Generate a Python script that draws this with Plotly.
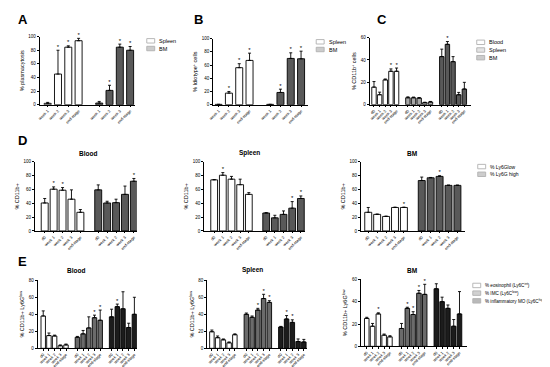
import plotly.graph_objects as go

# ---------------- data ----------------
cats4 = ["week 1", "week 2", "week 3", "end-stage"]
cats5 = ["d0", "week 1", "week 2", "week 3", "end-stage"]

# A: % plasmacytosis
A_spleen = [2.0, 45.0, 84.5, 94.0]
A_spleen_err = [1.4, 35.0, 2.0, 3.5]
A_spleen_sig = [0, 1, 1, 1]
A_bm = [2.4, 21.0, 84.5, 80.0]
A_bm_err = [2.4, 7.5, 4.5, 5.5]
A_bm_sig = [0, 1, 1, 1]

# B: % idiotype+ cells
B_spleen = [0.5, 17.5, 56.0, 67.0]
B_spleen_err = [0.0, 2.5, 6.0, 11.0]
B_spleen_sig = [0, 1, 1, 1]
B_bm = [0.5, 18.5, 70.0, 69.5]
B_bm_err = [0.0, 5.0, 8.5, 11.5]
B_bm_sig = [0, 1, 1, 1]

# C: % CD11b+ cells
C_blood = [15.7, 8.9, 22.2, 29.9, 29.9]
C_blood_err = [5.0, 2.3, 0.8, 2.1, 2.9]
C_blood_sig = [0, 0, 0, 1, 1]
C_spleen = [6.2, 6.2, 5.9, 1.8, 2.4]
C_spleen_err = [0.8, 0.6, 0.5, 0.4, 0.5]
C_spleen_sig = [0, 0, 0, 0, 0]
C_bm = [43.0, 54.0, 38.5, 8.9, 14.0]
C_bm_err = [6.7, 2.5, 4.5, 2.1, 6.0]
C_bm_sig = [0, 1, 0, 0, 0]

# D: % CD11b+ (Ly6G low / high)
D_blood_low = [40.5, 60.5, 59.0, 46.0, 27.0]
D_blood_low_err = [6.5, 3.3, 3.8, 13.5, 4.0]
D_blood_low_sig = [0, 1, 1, 0, 0]
D_blood_high = [59.5, 40.5, 41.0, 53.0, 72.0]
D_blood_high_err = [7.2, 2.5, 5.0, 12.0, 4.0]
D_blood_high_sig = [0, 0, 0, 0, 1]
D_spleen_low = [74.0, 80.7, 75.0, 67.0, 53.0]
D_spleen_low_err = [0.5, 3.8, 4.0, 8.0, 2.5]
D_spleen_low_sig = [0, 1, 0, 0, 0]
D_spleen_high = [26.0, 19.0, 24.0, 33.0, 47.0]
D_spleen_high_err = [0.5, 3.7, 5.0, 9.5, 3.7]
D_spleen_high_sig = [0, 0, 0, 1, 1]
D_bm_low = [27.0, 24.0, 21.0, 34.0, 34.0]
D_bm_low_err = [7.0, 0.5, 0.5, 0.5, 0.5]
D_bm_low_sig = [0, 0, 0, 0, 1]
D_bm_high = [73.0, 77.0, 79.0, 66.0, 66.0]
D_bm_high_err = [5.0, 0.5, 1.0, 0.5, 0.5]
D_bm_high_sig = [0, 0, 1, 0, 0]

# E: % CD11b+ Ly6G low subsets
E_blood_eos = [38.0, 15.0, 14.5, 3.0, 4.0]
E_blood_eos_err = [6.0, 3.0, 1.0, 1.0, 1.0]
E_blood_eos_sig = [0, 0, 0, 0, 0]
E_blood_imc = [13.0, 17.0, 24.0, 36.0, 33.0]
E_blood_imc_err = [1.0, 4.0, 13.0, 3.0, 12.0]
E_blood_imc_sig = [0, 0, 0, 1, 1]
E_blood_mo = [37.0, 49.0, 46.5, 24.5, 40.0]
E_blood_mo_err = [9.0, 3.0, 20.0, 5.0, 20.0]
E_blood_mo_sig = [0, 1, 0, 0, 0]

E_spleen_eos = [19.5, 12.5, 10.0, 6.5, 16.0]
E_spleen_eos_err = [2.0, 2.0, 1.0, 1.0, 1.0]
E_spleen_eos_sig = [0, 0, 0, 0, 0]
E_spleen_imc = [40.0, 36.5, 45.0, 58.5, 54.0]
E_spleen_imc_err = [1.5, 1.5, 2.0, 5.0, 2.0]
E_spleen_imc_sig = [0, 0, 1, 1, 1]
E_spleen_mo = [25.0, 34.5, 30.5, 8.0, 7.5]
E_spleen_mo_err = [0.8, 4.0, 3.0, 3.0, 3.0]
E_spleen_mo_sig = [0, 1, 1, 0, 0]

E_bm_eos = [25.0, 18.0, 29.0, 10.0, 8.5]
E_bm_eos_err = [1.0, 2.5, 1.0, 1.0, 1.0]
E_bm_eos_sig = [0, 0, 1, 0, 0]
E_bm_imc = [16.0, 34.0, 28.5, 47.5, 46.5]
E_bm_imc_err = [4.5, 1.0, 2.5, 2.5, 9.0]
E_bm_imc_sig = [0, 1, 1, 1, 1]
E_bm_mo = [51.5, 40.0, 34.0, 18.0, 29.0]
E_bm_mo_err = [4.5, 4.0, 3.0, 6.0, 20.0]
E_bm_mo_sig = [0, 0, 0, 0, 0]

# ---------------- styling ----------------
W, H = 550, 367
FONT = "Liberation Sans, Arial, sans-serif"
WHITE, LGRAY, DGRAY, MGRAY, BLACK = "#ffffff", "#a8a8a8", "#595959", "#6b6b6b", "#1c1c1c"


def px(x):
    return x / W


def py(y):
    return 1 - y / H


panels = [
    dict(cats=cats4, x0=27, x1=123, ytop=27, ybot=96, ymax=100, dtick=20, first=35, step=10.4, bw=0.68,
         ytitle="% plasmacytosis",
         series=[(A_spleen, A_spleen_err, A_spleen_sig, WHITE), (A_bm, A_bm_err, A_bm_sig, DGRAY)]),
    dict(cats=cats4, x0=202, x1=298, ytop=29, ybot=96, ymax=100, dtick=20, first=207.5, step=10.4, bw=0.68,
         ytitle="% Idiotype<sup>+</sup> cells",
         series=[(B_spleen, B_spleen_err, B_spleen_sig, WHITE), (B_bm, B_bm_err, B_bm_sig, DGRAY)]),
    dict(cats=cats5, x0=360, x1=462, ytop=28, ybot=96, ymax=60, dtick=20, first=364.3, step=5.7, bw=0.78,
         ytitle="% CD11b<sup>+</sup> cells",
         series=[(C_blood, C_blood_err, C_blood_sig, WHITE), (C_spleen, C_spleen_err, C_spleen_sig, LGRAY),
                 (C_bm, C_bm_err, C_bm_sig, DGRAY)]),
    dict(cats=cats5, x0=22, x1=125, ytop=154, ybot=224, ymax=100, dtick=20, first=32, step=9.0, bw=0.78,
         ytitle="% CD11b+", title="Blood", tx=76, ty=145,
         series=[(D_blood_low, D_blood_low_err, D_blood_low_sig, WHITE),
                 (D_blood_high, D_blood_high_err, D_blood_high_sig, DGRAY)]),
    dict(cats=cats5, x0=193, x1=295, ytop=154, ybot=224, ymax=100, dtick=20, first=203, step=8.75, bw=0.78,
         ytitle="% CD11b+", title="Spleen", tx=239, ty=145,
         series=[(D_spleen_low, D_spleen_low_err, D_spleen_low_sig, WHITE),
                 (D_spleen_high, D_spleen_high_err, D_spleen_high_sig, DGRAY)]),
    dict(cats=cats5, x0=351, x1=456, ytop=154, ybot=224, ymax=100, dtick=20, first=358.5, step=9.0, bw=0.78,
         ytitle="% CD11b+", title="BM", tx=403, ty=145,
         series=[(D_bm_low, D_bm_low_err, D_bm_low_sig, WHITE),
                 (D_bm_high, D_bm_high_err, D_bm_high_sig, DGRAY)]),
    dict(cats=cats5, x0=25, x1=125, ytop=274, ybot=343, ymax=80, dtick=20, first=30.5, step=5.75, bw=0.78,
         ytitle="% CD11b+ Ly6G<sup>low</sup>", title="Blood", tx=64, ty=264,
         series=[(E_blood_eos, E_blood_eos_err, E_blood_eos_sig, WHITE),
                 (E_blood_imc, E_blood_imc_err, E_blood_imc_sig, MGRAY),
                 (E_blood_mo, E_blood_mo_err, E_blood_mo_sig, BLACK)]),
    dict(cats=cats5, x0=196, x1=297, ytop=274, ybot=343, ymax=80, dtick=20, first=200.7, step=5.8, bw=0.78,
         ytitle="% CD11b+ Ly6G<sup>low</sup>", title="Spleen", tx=242, ty=264,
         series=[(E_spleen_eos, E_spleen_eos_err, E_spleen_eos_sig, WHITE),
                 (E_spleen_imc, E_spleen_imc_err, E_spleen_imc_sig, MGRAY),
                 (E_spleen_mo, E_spleen_mo_err, E_spleen_mo_sig, BLACK)]),
    dict(cats=cats5, x0=351, x1=458, ytop=273, ybot=341, ymax=60, dtick=20, first=357, step=5.85, bw=0.78,
         ytitle="% CD11b+ Ly6G<sup>low</sup>", title="BM", tx=403, ty=264,
         series=[(E_bm_eos, E_bm_eos_err, E_bm_eos_sig, WHITE),
                 (E_bm_imc, E_bm_imc_err, E_bm_imc_sig, MGRAY),
                 (E_bm_mo, E_bm_mo_err, E_bm_mo_sig, BLACK)]),
]

fig = go.Figure()
layout = dict(width=W, height=H, margin=dict(l=0, r=0, t=0, b=0), plot_bgcolor="white",
              paper_bgcolor="white", showlegend=False, template="simple_white",
              font=dict(family=FONT, color="black", size=5),
              annotations=[], shapes=[])

for k, p in enumerate(panels, start=1):
    xa = "x" if k == 1 else f"x{k}"
    ya = "y" if k == 1 else f"y{k}"
    n = len(p["cats"])
    tickvals, ticktext = [], []
    for g, (vals, errs, sig, col) in enumerate(p["series"]):
        pos = [g * (n + 1) + i for i in range(n)]
        tickvals += pos
        ticktext += p["cats"]
        fig.add_trace(go.Bar(
            x=pos, y=vals, width=p["bw"], xaxis=xa, yaxis=ya,
            marker=dict(color=col, line=dict(color="black", width=0.9)),
            error_y=dict(type="data", array=errs, arrayminus=[0] * n, symmetric=False,
                         color="black", thickness=0.9, width=1.5),
        ))
        sx = [pos[i] for i in range(n) if sig[i]]
        sy = [vals[i] + errs[i] for i in range(n) if sig[i]]
        if sx:
            fig.add_trace(go.Scatter(x=sx, y=sy, mode="text", text=["*"] * len(sx),
                                     textposition="top center",
                                     textfont=dict(size=6, family=FONT, color="black"),
                                     xaxis=xa, yaxis=ya, cliponaxis=False, hoverinfo="skip"))
    lo = (p["x0"] - p["first"]) / p["step"]
    hi = (p["x1"] - p["first"]) / p["step"]
    layout["xaxis" if k == 1 else f"xaxis{k}"] = dict(
        domain=[px(p["x0"]), px(p["x1"])], range=[lo, hi], anchor=ya,
        tickmode="array", tickvals=tickvals, ticktext=ticktext, tickangle=-45,
        tickfont=dict(size=4, family=FONT, color="black"), ticks="outside", ticklen=1.5, tickwidth=0.8,
        tickcolor="black",
        showline=True, linecolor="black", linewidth=1, showgrid=False, zeroline=False)
    layout["yaxis" if k == 1 else f"yaxis{k}"] = dict(
        domain=[py(p["ybot"]), py(p["ytop"])], range=[0, p["ymax"]], dtick=p["dtick"], anchor=xa,
        tickfont=dict(size=4.5, family=FONT, color="black"), ticks="outside", ticklen=2, tickwidth=0.8,
        tickcolor="black",
        showline=True, linecolor="black", linewidth=1, showgrid=False, zeroline=False,
        title=dict(text=p["ytitle"], font=dict(size=5.5, family=FONT, color="black"), standoff=3))
    if "title" in p:
        layout["annotations"].append(dict(
            x=px(p["tx"]), y=py(p["ty"]), xref="paper", yref="paper", text=f"<b>{p['title']}</b>",
            showarrow=False, font=dict(size=6.5, family=FONT, color="black"),
            xanchor="center", yanchor="middle"))

# panel letters
for letter, lx, ly in [("A", 3, 10), ("B", 181, 10), ("C", 365, 10), ("D", 3, 132), ("E", 3, 255)]:
    layout["annotations"].append(dict(x=px(lx), y=py(ly), xref="paper", yref="paper", text=f"<b>{letter}</b>",
                                      showarrow=False, font=dict(size=13, family=FONT, color="black"),
                                      xanchor="left", yanchor="middle"))

# legends (drawn manually)
legends = [
    (135, 29, 5.5, [("Spleen", WHITE), ("BM", DGRAY)]),
    (306, 30, 5.5, [("Spleen", WHITE), ("BM", DGRAY)]),
    (468, 30.5, 5.5, [("Blood", WHITE), ("Spleen", LGRAY), ("BM", DGRAY)]),
    (469, 156.5, 5.0, [("% Ly6Glow", WHITE), ("% Ly6G high", DGRAY)]),
    (464, 277, 4.6, [("% eosinophil (Ly6C<sup>int</sup>)", WHITE), ("% IMC (Ly6C<sup>low</sup>)", MGRAY),
                     ("% inflammatory MO (Ly6C<sup>high</sup>)", BLACK)]),
]
for lx, ly, fs, items in legends:
    for j, (txt, col) in enumerate(items):
        y0 = ly + j * 7.8
        layout["shapes"].append(dict(type="rect", xref="paper", yref="paper",
                                     x0=px(lx), x1=px(lx + 8), y0=py(y0), y1=py(y0 + 4.5),
                                     fillcolor=col, line=dict(color="black", width=0.9)))
        layout["annotations"].append(dict(x=px(lx + 10.5), y=py(y0 + 2.3), xref="paper", yref="paper",
                                          text=txt, showarrow=False, xanchor="left", yanchor="middle",
                                          font=dict(size=fs, family=FONT, color="black")))

fig.update_layout(**layout)
fig.write_html("out.html")
